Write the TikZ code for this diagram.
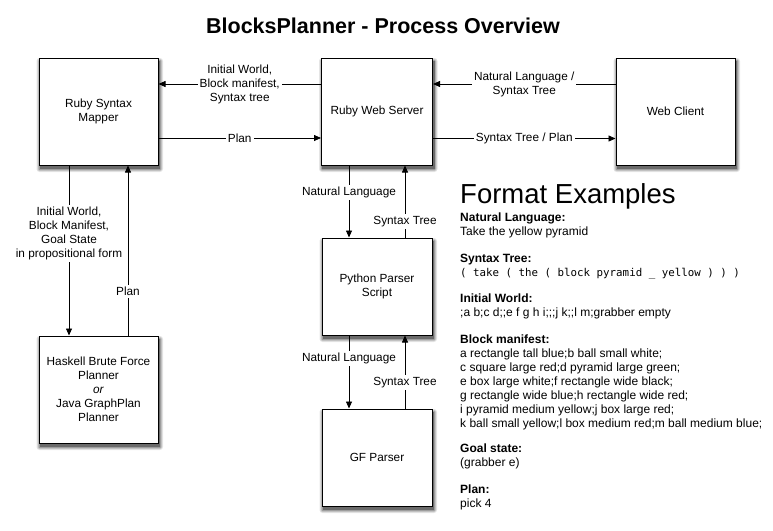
\documentclass[tikz,border=0pt]{standalone}
\usepackage{fontspec}
\setmainfont{Liberation Sans}
\setmonofont{DejaVu Sans Mono}
\usetikzlibrary{arrows.meta,backgrounds}

\begin{document}
\begin{tikzpicture}[x=1pt,y=-1pt,
    box/.style={draw, fill=white, line width=1pt, align=center, inner sep=0pt,
        font=\fontsize{11.8}{14}\selectfont},
    flow/.style={-{Triangle[length=7pt,width=6pt]}, line width=0.8pt},
    lbl/.style={fill=white, align=center, inner sep=2pt, font=\fontsize{11.8}{14}\selectfont}]
    \useasboundingbox (0,0) rectangle (773,530);
    \node[anchor=base, font=\bfseries\fontsize{21.5}{24}\selectfont] (title) at (383,33) {BlocksPlanner - Process Overview};
    \node[box, minimum width=119pt, minimum height=107pt] (mapper) at (98.5,111.5) {Ruby Syntax\\Mapper};
    \node[box, minimum width=111pt, minimum height=107pt] (server) at (377,111.5) {Ruby Web Server};
    \node[box, minimum width=119pt, minimum height=107pt] (client) at (675.5,111.5) {Web Client};
    \node[box, minimum width=110pt, minimum height=97pt] (parser) at (377,286.5) {Python Parser\\Script};
    \node[box, minimum width=110pt, minimum height=97pt] (gf) at (377,457.5) {GF Parser};
    \node[box, minimum width=119pt, minimum height=107pt] (planner) at (98.5,389.5) {Haskell Brute Force\\Planner\\\textit{or}\\Java GraphPlan\\Planner};
    \begin{pgfonlayer}{background}
        \foreach \n in {mapper,server,client,parser,gf,planner}
            \foreach \e/\c in {3/10,2/22,1/38,0/58}
                \fill[black!\c, rounded corners=\e] ([shift={({1-\e},{3.5+\e})}]\n.south west) rectangle ([shift={({1.5+\e},{3.5-\e})}]\n.north east);
    \end{pgfonlayer}
    \draw[flow] ([yshift=27.5pt]server.west) -- node[lbl]{Initial World,\\Block manifest,\\Syntax tree} ([yshift=27.5pt]mapper.east);
    \draw[flow] ([yshift=-26.5pt]mapper.east) -- node[lbl]{Plan} ([yshift=-26.5pt]server.west);
    \draw[flow] ([yshift=27.5pt]client.west) -- node[lbl]{Natural Language /\\Syntax Tree} ([yshift=27.5pt]server.east);
    \draw[flow] ([yshift=-27pt]server.east) -- node[lbl]{Syntax Tree / Plan} ([yshift=-27pt]client.west);
    \draw[flow] ([xshift=-28pt]server.south) -- node[lbl, pos=0.38]{Natural Language} ([xshift=-28pt]parser.north);
    \draw[flow] ([xshift=28pt]parser.north) -- node[lbl, pos=0.22]{Syntax Tree} ([xshift=28pt]server.south);
    \draw[flow] ([xshift=-28pt]parser.south) -- node[lbl, pos=0.31]{Natural Language} ([xshift=-28pt]gf.north);
    \draw[flow] ([xshift=28pt]gf.north) -- node[lbl, pos=0.36]{Syntax Tree} ([xshift=28pt]parser.south);
    \draw[flow] ([xshift=-29.5pt]mapper.south) -- node[lbl, pos=0.4]{Initial World,\\Block Manifest,\\Goal State\\in propositional form} ([xshift=-29.5pt]planner.north);
    \draw[flow] ([xshift=29.5pt]planner.north) -- node[lbl, pos=0.26]{Plan} ([xshift=29.5pt]mapper.south);
    \node[anchor=base west, inner sep=0pt, font=\fontsize{27.5}{30}\selectfont] (heading) at (460,203) {Format Examples};
    \node[anchor=north west, align=left, inner sep=0pt, font=\fontsize{12}{14}\selectfont] (examples) at (460,212.5) {%
        \textbf{Natural Language:}\\
        Take the yellow pyramid\\[13pt]
        \textbf{Syntax Tree:}\\
        {\fontsize{10.8}{14}\selectfont\ttfamily ( take ( the ( block pyramid \_ yellow ) ) )}\\[12pt]
        \textbf{Initial World:}\\
        ;a b;c d;;e f g h i;;;j k;;l m;grabber empty\\[13pt]
        \textbf{Block manifest:}\\
        a rectangle tall blue;b ball small white;\\
        c square large red;d pyramid large green;\\
        e box large white;f rectangle wide black;\\
        g rectangle wide blue;h rectangle wide red;\\
        i pyramid medium yellow;j box large red;\\
        k ball small yellow;l box medium red;m ball medium blue;\\[11pt]
        \textbf{Goal state:}\\
        (grabber e)\\[13pt]
        \textbf{Plan:}\\
        pick 4};
\end{tikzpicture}
\end{document}
